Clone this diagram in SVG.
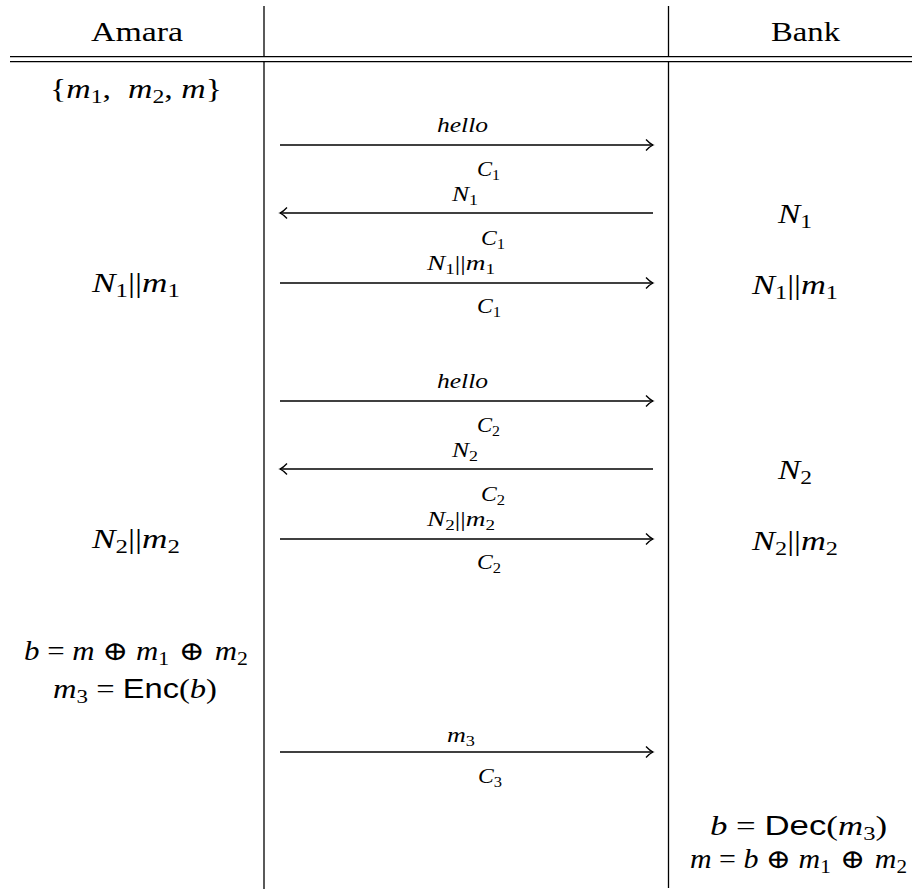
<svg xmlns="http://www.w3.org/2000/svg" width="912" height="889" viewBox="0 0 912 889">
<style>
.t{font-family:"Liberation Serif","DejaVu Serif",serif;font-size:27px;fill:#000}
.h{font-size:28px}
.l{font-family:"Liberation Serif","DejaVu Serif",serif;font-size:20px;fill:#000}
.i{font-style:italic}
.s{font-size:19px;font-style:normal}
.ls{font-size:14px;font-style:normal}
.sf{font-family:"Liberation Sans","DejaVu Sans",sans-serif;font-style:normal}
.op{font-family:"DejaVu Serif","Liberation Serif",serif;font-style:normal;font-weight:normal}
.rule{stroke:#000;stroke-width:1.3;fill:none}
.arr{stroke:#000;stroke-width:1.3;fill:none}
</style>
<defs>
<marker id="ah" markerUnits="userSpaceOnUse" markerWidth="14" markerHeight="14" viewBox="-10 -7 14 14" refX="0" refY="0" orient="auto-start-reverse">
<path d="M-7,-5.5 Q-3,-1.2 0,0 Q-3,1.2 -7,5.5" fill="none" stroke="#000" stroke-width="1.3"/>
</marker>
</defs>
<g id="table">
<line class="rule" x1="10" y1="56.7" x2="912" y2="56.7"/>
<line class="rule" x1="10" y1="61.7" x2="912" y2="61.7"/>
<line class="rule" x1="264" y1="6" x2="264" y2="56.7"/>
<line class="rule" x1="264" y1="61.7" x2="264" y2="889"/>
<line class="rule" x1="668.5" y1="6" x2="668.5" y2="56.7"/>
<line class="rule" x1="668.5" y1="61.7" x2="668.5" y2="888"/>
</g>
<g id="amara-header"><text class="t h" x="91" y="41" textLength="92" lengthAdjust="spacingAndGlyphs">Amara</text></g>
<g id="bank-header"><text class="t h" x="771" y="41" textLength="69" lengthAdjust="spacingAndGlyphs">Bank</text></g>
<g id="amara-set"><text class="t" x="50" y="98" textLength="172" lengthAdjust="spacingAndGlyphs">{<tspan class="i">m</tspan><tspan class="s" dy="5">1</tspan><tspan dy="-5">,&#160; </tspan><tspan class="i">m</tspan><tspan class="s" dy="5">2</tspan><tspan dy="-5">, </tspan><tspan class="i">m</tspan>}</text></g>
<g id="bank-n1"><text class="t i" x="778" y="223" textLength="34" lengthAdjust="spacingAndGlyphs">N<tspan class="s" dy="5">1</tspan></text></g>
<g id="amara-n1m1"><text class="t i" x="92" y="292" textLength="88" lengthAdjust="spacingAndGlyphs">N<tspan class="s" dy="5">1</tspan><tspan dy="-5" font-style="normal">||</tspan>m<tspan class="s" dy="5">1</tspan></text></g>
<g id="bank-n1m1"><text class="t i" x="752" y="294" textLength="86" lengthAdjust="spacingAndGlyphs">N<tspan class="s" dy="5">1</tspan><tspan dy="-5" font-style="normal">||</tspan>m<tspan class="s" dy="5">1</tspan></text></g>
<g id="bank-n2"><text class="t i" x="778" y="479" textLength="34" lengthAdjust="spacingAndGlyphs">N<tspan class="s" dy="5">2</tspan></text></g>
<g id="amara-n2m2"><text class="t i" x="92" y="548" textLength="88" lengthAdjust="spacingAndGlyphs">N<tspan class="s" dy="5">2</tspan><tspan dy="-5" font-style="normal">||</tspan>m<tspan class="s" dy="5">2</tspan></text></g>
<g id="bank-n2m2"><text class="t i" x="752" y="550" textLength="86" lengthAdjust="spacingAndGlyphs">N<tspan class="s" dy="5">2</tspan><tspan dy="-5" font-style="normal">||</tspan>m<tspan class="s" dy="5">2</tspan></text></g>
<g id="amara-b"><text class="t i" x="24" y="660" textLength="224" lengthAdjust="spacingAndGlyphs">b <tspan font-style="normal">=</tspan> m <tspan class="op">⊕</tspan> m<tspan class="s" dy="5">1</tspan><tspan dy="-5" class="op"> ⊕ </tspan>m<tspan class="s" dy="5">2</tspan></text></g>
<g id="amara-m3"><text class="t i" x="53" y="698" textLength="164" lengthAdjust="spacingAndGlyphs">m<tspan class="s" dy="5">3</tspan><tspan dy="-5" font-style="normal"> = </tspan><tspan class="sf">Enc</tspan><tspan font-style="normal">(</tspan>b<tspan font-style="normal">)</tspan></text></g>
<g id="bank-dec"><text class="t i" x="710" y="835" textLength="177" lengthAdjust="spacingAndGlyphs">b <tspan font-style="normal">= </tspan><tspan class="sf">Dec</tspan><tspan font-style="normal">(</tspan>m<tspan class="s" dy="5">3</tspan><tspan dy="-5" font-style="normal">)</tspan></text></g>
<g id="bank-m"><text class="t i" x="690" y="868" textLength="217" lengthAdjust="spacingAndGlyphs">m <tspan font-style="normal">=</tspan> b <tspan class="op">⊕</tspan> m<tspan class="s" dy="5">1</tspan><tspan dy="-5" class="op"> ⊕ </tspan>m<tspan class="s" dy="5">2</tspan></text></g>
<g id="connectors">
<line class="arr" x1="280" y1="145" x2="653" y2="145" marker-end="url(#ah)"/>
<line class="arr" x1="653" y1="213" x2="280" y2="213" marker-end="url(#ah)"/>
<line class="arr" x1="280" y1="283" x2="653" y2="283" marker-end="url(#ah)"/>
<line class="arr" x1="280" y1="401" x2="653" y2="401" marker-end="url(#ah)"/>
<line class="arr" x1="653" y1="469" x2="280" y2="469" marker-end="url(#ah)"/>
<line class="arr" x1="280" y1="539" x2="653" y2="539" marker-end="url(#ah)"/>
<line class="arr" x1="280" y1="752" x2="653" y2="752" marker-end="url(#ah)"/>
<text class="l i" x="437" y="132" textLength="51" lengthAdjust="spacingAndGlyphs">hello</text>
<text class="l i" x="477" y="176" textLength="23" lengthAdjust="spacingAndGlyphs">C<tspan class="ls" dy="4">1</tspan></text>
<text class="l i" x="452" y="201" textLength="26" lengthAdjust="spacingAndGlyphs">N<tspan class="ls" dy="4">1</tspan></text>
<text class="l i" x="481" y="245" textLength="24" lengthAdjust="spacingAndGlyphs">C<tspan class="ls" dy="4">1</tspan></text>
<text class="l i" x="427" y="270" textLength="68" lengthAdjust="spacingAndGlyphs">N<tspan class="ls" dy="4">1</tspan><tspan dy="-4" font-style="normal">||</tspan>m<tspan class="ls" dy="4">1</tspan></text>
<text class="l i" x="477" y="313" textLength="24" lengthAdjust="spacingAndGlyphs">C<tspan class="ls" dy="4">1</tspan></text>
<text class="l i" x="437" y="388" textLength="51" lengthAdjust="spacingAndGlyphs">hello</text>
<text class="l i" x="477" y="432" textLength="23" lengthAdjust="spacingAndGlyphs">C<tspan class="ls" dy="4">2</tspan></text>
<text class="l i" x="452" y="457" textLength="26" lengthAdjust="spacingAndGlyphs">N<tspan class="ls" dy="4">2</tspan></text>
<text class="l i" x="481" y="501" textLength="24" lengthAdjust="spacingAndGlyphs">C<tspan class="ls" dy="4">2</tspan></text>
<text class="l i" x="427" y="526" textLength="68" lengthAdjust="spacingAndGlyphs">N<tspan class="ls" dy="4">2</tspan><tspan dy="-4" font-style="normal">||</tspan>m<tspan class="ls" dy="4">2</tspan></text>
<text class="l i" x="477" y="569" textLength="24" lengthAdjust="spacingAndGlyphs">C<tspan class="ls" dy="4">2</tspan></text>
<text class="l i" x="447" y="742" textLength="28" lengthAdjust="spacingAndGlyphs">m<tspan class="ls" dy="4">3</tspan></text>
<text class="l i" x="478" y="783" textLength="24" lengthAdjust="spacingAndGlyphs">C<tspan class="ls" dy="4">3</tspan></text>
</g>
</svg>
